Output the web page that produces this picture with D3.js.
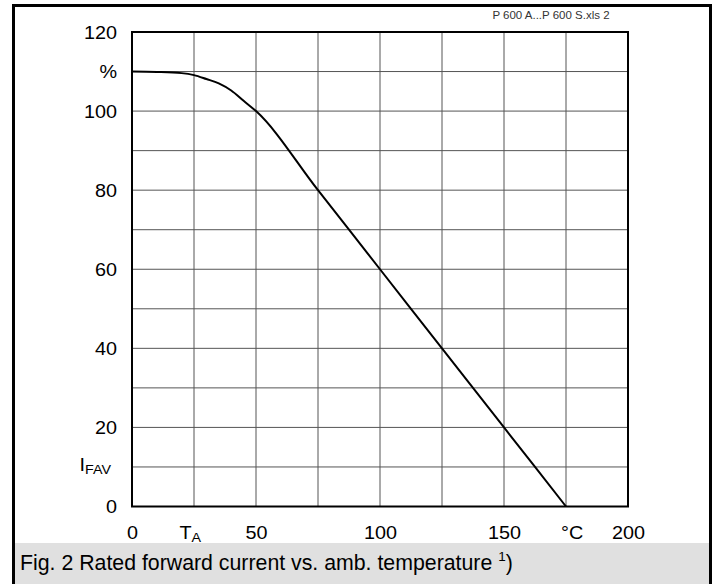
<!DOCTYPE html>
<html><head><meta charset="utf-8">
<script src="https://cdn.jsdelivr.net/npm/d3@7"></script>
<style>
html,body{margin:0;padding:0;background:#fff;}
svg{display:block;font-family:"Liberation Sans",Arial,sans-serif;}
</style></head>
<body>
<svg id="c" width="718" height="584"></svg>
<script>
// Data
const temps = [0, 10, 20, 25, 30, 35, 40, 45, 50, 75, 100, 125, 150, 175];
const current = [110, 109.9, 109.6, 109.1, 108.1, 107, 105.2, 102.6, 100, 80, 60, 40, 20, 0];
const xTickLabels = [0, 50, 100, 150, 200];
const yTickLabels = [0, 20, 40, 60, 80, 100, 120];
const xGrid = [0, 25, 50, 75, 100, 125, 150, 175, 200];
const yGrid = [0, 10, 20, 30, 40, 50, 60, 70, 80, 90, 100, 110, 120];
const caption = "Fig. 2 Rated forward current vs. amb. temperature ";
const fileTag = "P 600 A...P 600 S.xls 2";

const svg = d3.select("#c");
const L = 132, R = 628, T = 32, B = 506.5;
const x = d3.scaleLinear().domain([0, 200]).range([L, R]);
const y = d3.scaleLinear().domain([0, 120]).range([B, T]);
const sx = 1.1;
const fs = 18;

// outer frame
svg.append("rect").attr("x", 13.5).attr("y", 5.5).attr("width", 697).attr("height", 600)
  .attr("fill", "none").attr("stroke", "#000").attr("stroke-width", 3);
// caption band
svg.append("rect").attr("x", 15).attr("y", 543).attr("width", 694).attr("height", 41).attr("fill", "#e0e0e0");

// grid
const g = svg.append("g");
g.selectAll("line.v").data(xGrid).join("line")
  .attr("x1", d => x(d)).attr("x2", d => x(d)).attr("y1", T).attr("y2", B)
  .attr("stroke", "#555").attr("stroke-width", 1);
g.selectAll("line.h").data(yGrid).join("line")
  .attr("y1", d => y(d)).attr("y2", d => y(d)).attr("x1", L).attr("x2", R)
  .attr("stroke", "#555").attr("stroke-width", 1);
// plot frame
g.append("rect").attr("x", L).attr("y", T).attr("width", R - L).attr("height", B - T)
  .attr("fill", "none").attr("stroke", "#000").attr("stroke-width", 2);

// axes (labels only, via d3 axis)
const yAxis = d3.axisLeft(y).tickValues(yTickLabels).tickSize(0).tickPadding(0).tickFormat(d3.format("d"));
const ya = svg.append("g").attr("transform", `translate(${L - 15},0)`).call(yAxis);
ya.select(".domain").remove();
ya.selectAll("text").attr("font-size", fs).attr("fill", "#000")
  .attr("font-family", "Liberation Sans, Arial, sans-serif")
  .attr("transform", `scale(${sx},1)`)
  .attr("x", 0).attr("dy", "0.36em");

const xAxis = d3.axisBottom(x).tickValues(xTickLabels).tickSize(0).tickPadding(0).tickFormat(d3.format("d"));
const xa = svg.append("g").attr("transform", `translate(0,${B + 26})`).call(xAxis);
xa.select(".domain").remove();
xa.selectAll("text").attr("font-size", fs).attr("fill", "#000")
  .attr("font-family", "Liberation Sans, Arial, sans-serif")
  .attr("transform", `scale(${sx},1)`).attr("dy", "0.36em").attr("y", 0);

// unit labels
function lbl(px, py, anchor) {
  return svg.append("text").attr("transform", `translate(${px},${py}) scale(${sx},1)`)
    .attr("text-anchor", anchor).attr("font-size", fs).attr("fill", "#000");
}
lbl(L - 15, y(110), "end").attr("dy", "0.36em").text("%");
lbl(x(177.5), B + 26, "middle").attr("dy", "0.36em").text("°C");
const ifav = lbl(79.5, 471, "start");
ifav.append("tspan").text("I");
ifav.append("tspan").attr("font-size", 13).attr("dy", 3).text("FAV");
const ta = lbl(179.5, 538.5, "start");
ta.append("tspan").text("T");
ta.append("tspan").attr("font-size", 13).attr("dy", 3.5).text("A");

// curve
const line = d3.line().x((d, i) => x(temps[i])).y(d => y(d)).curve(d3.curveMonotoneX);
svg.append("path").datum(current).attr("d", line)
  .attr("fill", "none").attr("stroke", "#000").attr("stroke-width", 2);

// file tag
svg.append("text").attr("x", 551).attr("y", 18.5).attr("text-anchor", "middle")
  .attr("font-size", 11.5).attr("fill", "#333").text(fileTag);

// caption
const cap = svg.append("text").attr("x", 20).attr("y", 570).attr("font-size", 21.3).attr("fill", "#000");
cap.append("tspan").text(caption);
cap.append("tspan").attr("font-size", 13.5).attr("dy", -9.5).text("1");
cap.append("tspan").attr("dy", 9.5).text(")");
</script>
</body></html>
